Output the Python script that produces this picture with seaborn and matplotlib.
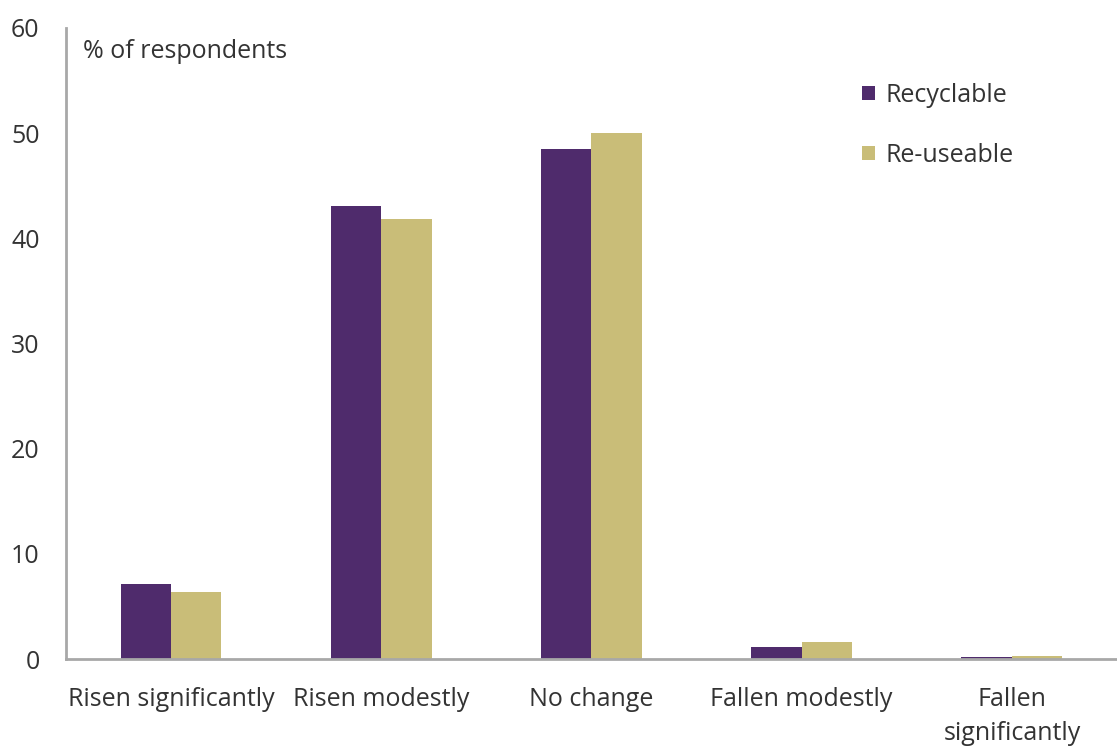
# Grouped bar chart: change in demand, recyclable vs re-useable
import pandas as pd
from matplotlib import pyplot as plt
import seaborn as sns

categories = ["Risen significantly", "Risen modestly", "No change",
              "Fallen modestly", "Fallen significantly"]
tick_labels = ["Risen significantly", "Risen modestly", "No change",
               "Fallen modestly", "Fallen\nsignificantly"]
recyclable = [7.1, 43.1, 48.5, 1.1, 0.2]
reuseable = [6.4, 41.8, 50.0, 1.6, 0.3]
series = ["Recyclable", "Re-useable"]
colors = ["#4f2b6c", "#c9bd78"]

df = pd.DataFrame({
    "category": categories * 2,
    "value": recyclable + reuseable,
    "series": [series[0]] * 5 + [series[1]] * 5,
})

sns.set_style("white")
plt.rcParams["font.family"] = ["Open Sans", "DejaVu Sans"]

fig = plt.figure(figsize=(11.17, 7.46), dpi=100)
ax = fig.add_axes([0.059, 0.1166, 0.941, 0.846])

sns.barplot(data=df, x="category", y="value", hue="series", order=categories,
            hue_order=series, palette=colors, width=0.48, saturation=1,
            linewidth=0, ax=ax)

ax.set_xlim(-0.5, 4.5)
ax.set_ylim(0, 60)
ax.set_yticks(range(0, 61, 10))
ax.set_xticks(range(5))
ax.set_xticklabels(tick_labels, linespacing=1.5)
ax.set_xlabel("")
ax.set_ylabel("")
ax.tick_params(axis="x", length=0, pad=20, labelsize=18, labelcolor="#333333")
ax.tick_params(axis="y", length=0, pad=19, labelsize=18, labelcolor="#333333")

for side in ["top", "right"]:
    ax.spines[side].set_visible(False)
for side in ["left", "bottom"]:
    ax.spines[side].set_color("#a8a8a8")
    ax.spines[side].set_linewidth(2)

ax.text(0.016, 0.962, "% of respondents", transform=ax.transAxes,
        fontsize=18, color="#333333", va="center", ha="left")

leg = ax.legend(loc="upper left", bbox_to_anchor=(862 / 1117, 1 - 83 / 746),
                bbox_transform=fig.transFigure, frameon=False,
                borderpad=0, borderaxespad=0,
                handlelength=0.5, handleheight=0.5, handletextpad=0.45,
                labelspacing=1.4, fontsize=18)
for t in leg.get_texts():
    t.set_color("#333333")

fig.savefig("out.png", dpi=100)
